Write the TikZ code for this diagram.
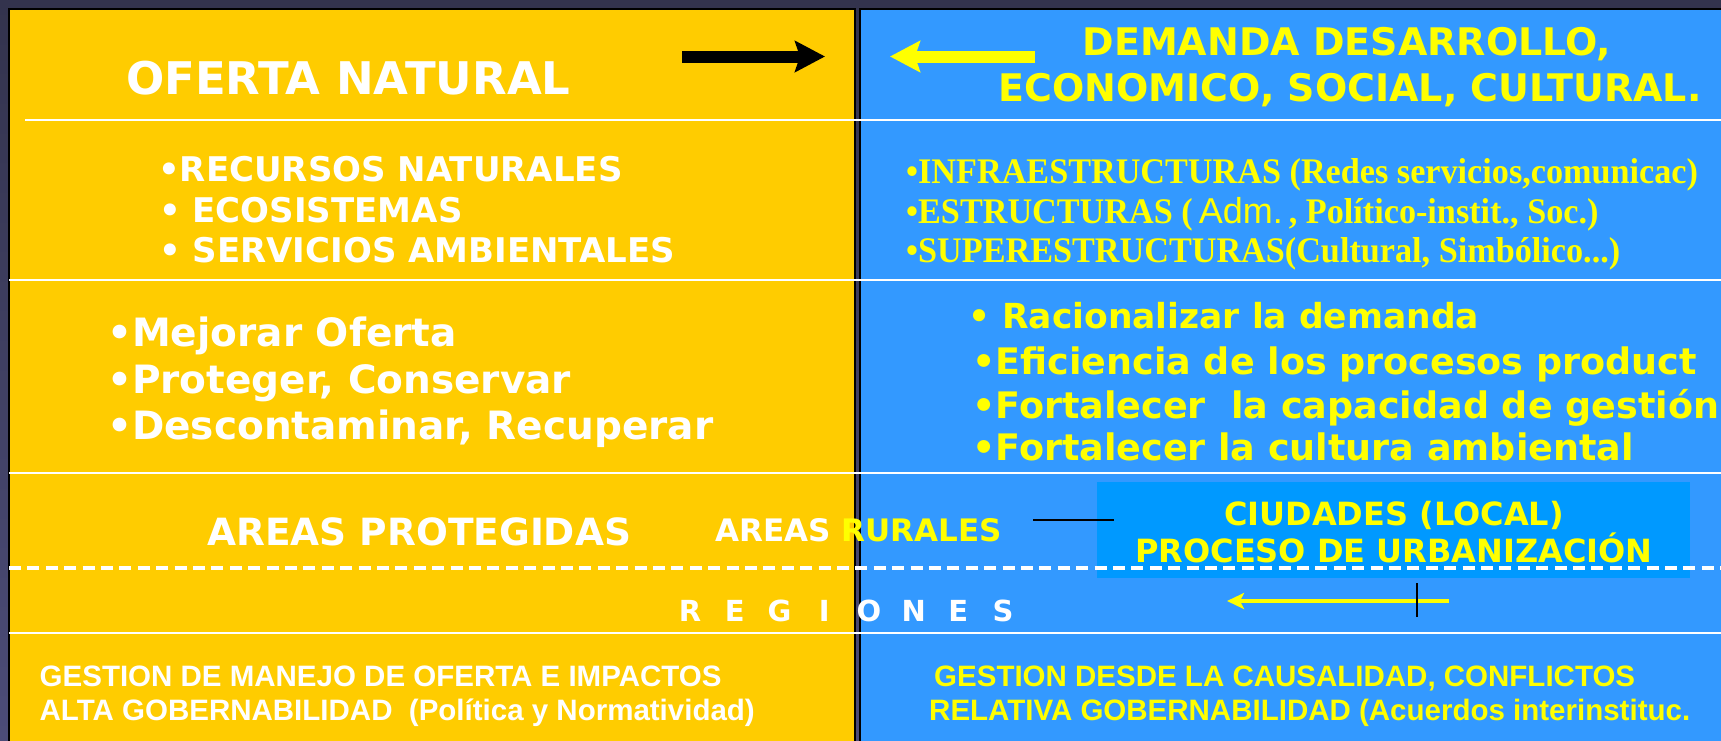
\documentclass[tikz,border=0pt]{standalone}
\usepackage{fontspec}
\usetikzlibrary{arrows.meta}
\newfontfamily\dvfam{DejaVu Sans}
\newfontfamily\lsfam{Liberation Sans}
\newfontfamily\lrfam{Liberation Serif}[FakeStretch=0.95]
\definecolor{navyA}{HTML}{33334D}
\definecolor{navyB}{HTML}{4C4C78}
\definecolor{panelY}{HTML}{FFCC00}
\definecolor{panelB}{HTML}{3399FF}
\definecolor{boxB}{HTML}{0099FF}
\definecolor{txtY}{HTML}{FFFF00}
\newcommand\fsz[1]{\fontsize{#1}{#1}\selectfont}
\begin{document}
\begin{tikzpicture}[x=1pt,y=-1pt,
  txt/.style={inner sep=0pt, anchor=base west},
  ctxt/.style={inner sep=0pt, anchor=base},
  sepline/.style={white, line width=2.5pt},
  dashline/.style={white, line width=4pt, dash pattern=on 12pt off 6.4pt},
  bigarrow/.style={line width=12pt, -{Stealth[length=30pt,width=31pt,inset=5pt]}},
  smallarrow/.style={line width=4.5pt, -{Stealth[length=17pt,width=16pt,inset=4pt]}}]
\useasboundingbox (0,0) rectangle (1721,740);
\begin{scope}
\clip (0,0) rectangle (1721,740);
\shade[top color=navyA,bottom color=navyB] (0,0) rectangle (1721,740);
\draw[black, line width=1.5pt, fill=panelY] (9,9) rectangle (855,745);
\draw[black, line width=1.5pt, fill=panelB] (860,9) rectangle (1730,745);

% separator lines
\coordinate (l1a) at (25,120);  \coordinate (l1b) at (1725,120);
\coordinate (l2a) at (9,280);   \coordinate (l2b) at (1725,280);
\coordinate (l3a) at (9,473);   \coordinate (l3b) at (1725,473);
\coordinate (l4a) at (9,633);   \coordinate (l4b) at (1725,633);
\draw[sepline] (l1a) -- (l1b);
\draw[sepline] (l2a) -- (l2b);
\draw[sepline] (l3a) -- (l3b);
\draw[sepline] (l4a) -- (l4b);

% cities box
\node[fill=boxB, minimum width=593pt, minimum height=96pt, anchor=north west, inner sep=0pt] (ciud) at (1097,482) {};

% dashed line
\coordinate (da) at (9,568); \coordinate (db) at (1725,568);
\draw[dashline] (da) -- (db);

% arrows
\coordinate (ba1) at (682,56.5); \coordinate (ba2) at (825,56.5);
\draw[bigarrow, black] (ba1) -- (ba2);
\coordinate (ya1) at (1035,56.5); \coordinate (ya2) at (890,56.5);
\draw[bigarrow, txtY] (ya1) -- (ya2);
\coordinate (sa1) at (1449,601); \coordinate (sa2) at (1227,601);
\draw[smallarrow, txtY] (sa1) -- (sa2);
\coordinate (tk1) at (1417,583); \coordinate (tk2) at (1417,617);
\draw[black, line width=1.5pt] (tk1) -- (tk2);
\coordinate (rl1) at (1033,520); \coordinate (rl2) at (1114,520);
\draw[black, line width=2pt] (rl1) -- (rl2);

% titles
\node[txt, white] (ofe) at (126,94) {\dvfam\bfseries\fsz{45}OFERTA NATURAL};
\node[ctxt, txtY] (dem1) at (1347,55) {\dvfam\bfseries\fsz{38}DEMANDA DESARROLLO,};
\node[ctxt, txtY] (dem2) at (1350,101) {\dvfam\bfseries\fsz{38}ECONOMICO, SOCIAL, CULTURAL.};

% left bullets
\node[txt, white] (rec) at (158,181) {\dvfam\bfseries\fsz{34}•RECURSOS NATURALES};
\node[txt, white] (eco) at (159,222) {\dvfam\bfseries\fsz{34}• ECOSISTEMAS};
\node[txt, white] (ser) at (159,262) {\dvfam\bfseries\fsz{34}• SERVICIOS AMBIENTALES};

% right bullets
\node[txt, txtY] (inf) at (906,183) {\lrfam\bfseries\fsz{36}•INFRAESTRUCTURAS (Redes servicios,comunicac)};
\node[txt, txtY] (est) at (906,223) {\lrfam\bfseries\fsz{36}•ESTRUCTURAS (\,{\lsfam\mdseries Adm.}\,, Político-instit., Soc.)};
\node[txt, txtY] (sup) at (906,262) {\lrfam\bfseries\fsz{36}•SUPERESTRUCTURAS(Cultural, Simbólico...)};

% left actions
\node[txt, white] (mej) at (107,346) {\dvfam\bfseries\fsz{39}•Mejorar Oferta};
\node[txt, white] (pro) at (107,393) {\dvfam\bfseries\fsz{39}•Proteger, Conservar};
\node[txt, white] (des) at (107,439) {\dvfam\bfseries\fsz{39}•Descontaminar, Recuperar};

% right actions
\node[txt, txtY] (rac) at (968,328) {\dvfam\bfseries\fsz{34.5}• Racionalizar la demanda};
\node[txt, txtY] (efi) at (972,374) {\dvfam\bfseries\fsz{36.5}•Eficiencia de los procesos product};
\node[txt, txtY] (for1) at (972,418) {\dvfam\bfseries\fsz{36.5}•Fortalecer\ \ la capacidad de gestión};
\node[txt, txtY] (for2) at (972,460) {\dvfam\bfseries\fsz{36.5}•Fortalecer la cultura ambiental};

% areas
\node[txt, white] (apr) at (207,545) {\dvfam\bfseries\fsz{37.5}AREAS PROTEGIDAS};
\node[txt] (aru) at (715,541) {\dvfam\bfseries\fsz{31}{\color{white}AREAS }{\color{txtY}RURALES}};
\node[ctxt, txtY] (ci1) at (1394,525) {\dvfam\bfseries\fsz{32}CIUDADES (LOCAL)};
\node[ctxt, txtY] (ci2) at (1394,562) {\dvfam\bfseries\fsz{32}PROCESO DE URBANIZACIÓN};

% regiones
\node[txt, white] (reg) at (667.6,621) {\dvfam\bfseries\fsz{29}%
\makebox[44.7pt][c]{R}\makebox[44.7pt][c]{E}\makebox[44.7pt][c]{G}\makebox[44.7pt][c]{I}%
\makebox[44.7pt][c]{O}\makebox[44.7pt][c]{N}\makebox[44.7pt][c]{E}\makebox[44.7pt][c]{S}};

% bottom
\node[txt, white] (g1) at (39.5,686) {\lsfam\bfseries\fsz{29.5}GESTION DE MANEJO DE OFERTA E IMPACTOS};
\node[txt, white] (g2) at (39.5,720) {\lsfam\bfseries\fsz{29.5}ALTA GOBERNABILIDAD\ \ (Política y Normatividad)};
\node[txt, txtY] (g3) at (934,686) {\lsfam\bfseries\fsz{29.5}GESTION DESDE LA CAUSALIDAD, CONFLICTOS};
\node[txt, txtY] (g4) at (929,720) {\lsfam\bfseries\fsz{29.5}RELATIVA GOBERNABILIDAD (Acuerdos interinstituc.};
\end{scope}
\end{tikzpicture}
\end{document}
